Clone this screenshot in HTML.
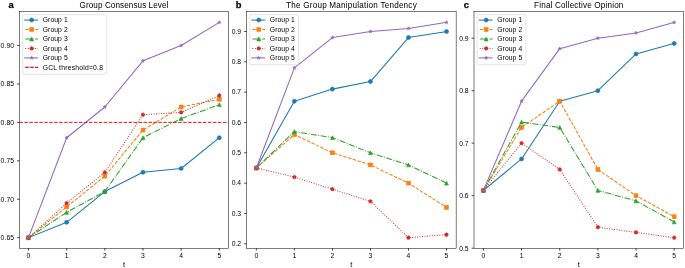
<!DOCTYPE html>
<html><head><meta charset="utf-8"><title>Charts</title>
<style>html,body{margin:0;padding:0;background:#fff;}body{width:685px;height:268px;overflow:hidden;font-family:"Liberation Sans",sans-serif;}svg{display:block;will-change:transform;}</style>
</head><body>
<svg width="685" height="268" viewBox="0 0 685 268" font-family="'Liberation Sans', sans-serif">
<rect width="685" height="268" fill="#fff"/>
<clipPath id="c0"><rect x="19.50" y="11.45" width="208.95" height="236.80"/></clipPath>
<g stroke="#000" stroke-width="0.72"><line x1="28.50" y1="248.25" x2="28.50" y2="250.64"/><line x1="66.66" y1="248.25" x2="66.66" y2="250.64"/><line x1="104.82" y1="248.25" x2="104.82" y2="250.64"/><line x1="142.98" y1="248.25" x2="142.98" y2="250.64"/><line x1="181.14" y1="248.25" x2="181.14" y2="250.64"/><line x1="219.30" y1="248.25" x2="219.30" y2="250.64"/><line x1="17.11" y1="237.69" x2="19.50" y2="237.69"/><line x1="17.11" y1="199.24" x2="19.50" y2="199.24"/><line x1="17.11" y1="160.80" x2="19.50" y2="160.80"/><line x1="17.11" y1="122.36" x2="19.50" y2="122.36"/><line x1="17.11" y1="83.92" x2="19.50" y2="83.92"/><line x1="17.11" y1="45.48" x2="19.50" y2="45.48"/></g>
<text x="28.50" y="258.05" font-size="6.78" text-anchor="middle" fill="#000">0</text>
<text x="66.66" y="258.05" font-size="6.78" text-anchor="middle" fill="#000">1</text>
<text x="104.82" y="258.05" font-size="6.78" text-anchor="middle" fill="#000">2</text>
<text x="142.98" y="258.05" font-size="6.78" text-anchor="middle" fill="#000">3</text>
<text x="181.14" y="258.05" font-size="6.78" text-anchor="middle" fill="#000">4</text>
<text x="219.30" y="258.05" font-size="6.78" text-anchor="middle" fill="#000">5</text>
<text x="13.97" y="240.02" font-size="6.78" text-anchor="end" textLength="13.35" lengthAdjust="spacing" fill="#000">0.65</text>
<text x="13.97" y="201.58" font-size="6.78" text-anchor="end" textLength="13.35" lengthAdjust="spacing" fill="#000">0.70</text>
<text x="13.97" y="163.14" font-size="6.78" text-anchor="end" textLength="13.35" lengthAdjust="spacing" fill="#000">0.75</text>
<text x="13.97" y="124.69" font-size="6.78" text-anchor="end" textLength="13.35" lengthAdjust="spacing" fill="#000">0.80</text>
<text x="13.97" y="86.25" font-size="6.78" text-anchor="end" textLength="13.35" lengthAdjust="spacing" fill="#000">0.85</text>
<text x="13.97" y="47.81" font-size="6.78" text-anchor="end" textLength="13.35" lengthAdjust="spacing" fill="#000">0.90</text>
<text x="123.97" y="266.50" font-size="7.46" text-anchor="middle" fill="#000">t</text>
<text x="123.97" y="7.50" font-size="8.14" text-anchor="middle" textLength="88.77" lengthAdjust="spacing" fill="#000">Group Consensus Level</text>
<text x="8.60" y="8.00" font-size="9.40" font-weight="bold" stroke="#000" stroke-width="0.25" fill="#000">a</text>
<g clip-path="url(#c0)">
<polyline points="28.50,237.69 66.66,222.31 104.82,191.56 142.98,172.34 181.14,168.49 219.30,137.74" fill="none" stroke="#1f77b4" stroke-width="1.05" stroke-linejoin="round" stroke-linecap="square"/>
<circle cx="28.50" cy="237.69" r="2.02" fill="#1f77b4" stroke="#1f77b4" stroke-width="0.64" stroke-linejoin="miter"/>
<circle cx="66.66" cy="222.31" r="2.02" fill="#1f77b4" stroke="#1f77b4" stroke-width="0.64" stroke-linejoin="miter"/>
<circle cx="104.82" cy="191.56" r="2.02" fill="#1f77b4" stroke="#1f77b4" stroke-width="0.64" stroke-linejoin="miter"/>
<circle cx="142.98" cy="172.34" r="2.02" fill="#1f77b4" stroke="#1f77b4" stroke-width="0.64" stroke-linejoin="miter"/>
<circle cx="181.14" cy="168.49" r="2.02" fill="#1f77b4" stroke="#1f77b4" stroke-width="0.64" stroke-linejoin="miter"/>
<circle cx="219.30" cy="137.74" r="2.02" fill="#1f77b4" stroke="#1f77b4" stroke-width="0.64" stroke-linejoin="miter"/>
<polyline points="28.50,237.69 66.66,206.93 104.82,176.18 142.98,130.05 181.14,106.99 219.30,99.30" fill="none" stroke="#ff7f0e" stroke-width="1.05" stroke-linejoin="round" stroke-dasharray="3.46,1.50"/>
<rect x="26.58" y="235.77" width="3.84" height="3.84" fill="#ff7f0e" stroke="#ff7f0e" stroke-width="0.64" stroke-linejoin="miter"/>
<rect x="64.74" y="205.01" width="3.84" height="3.84" fill="#ff7f0e" stroke="#ff7f0e" stroke-width="0.64" stroke-linejoin="miter"/>
<rect x="102.90" y="174.26" width="3.84" height="3.84" fill="#ff7f0e" stroke="#ff7f0e" stroke-width="0.64" stroke-linejoin="miter"/>
<rect x="141.06" y="128.13" width="3.84" height="3.84" fill="#ff7f0e" stroke="#ff7f0e" stroke-width="0.64" stroke-linejoin="miter"/>
<rect x="179.22" y="105.07" width="3.84" height="3.84" fill="#ff7f0e" stroke="#ff7f0e" stroke-width="0.64" stroke-linejoin="miter"/>
<rect x="217.38" y="97.38" width="3.84" height="3.84" fill="#ff7f0e" stroke="#ff7f0e" stroke-width="0.64" stroke-linejoin="miter"/>
<polyline points="28.50,237.69 66.66,212.31 104.82,191.56 142.98,137.74 181.14,118.52 219.30,104.68" fill="none" stroke="#2ca02c" stroke-width="1.05" stroke-linejoin="round" stroke-dasharray="5.98,1.50,0.93,1.50"/>
<polygon points="28.50,235.77 26.58,239.61 30.42,239.61" fill="#2ca02c" stroke="#2ca02c" stroke-width="0.64" stroke-linejoin="miter"/>
<polygon points="66.66,210.39 64.74,214.23 68.58,214.23" fill="#2ca02c" stroke="#2ca02c" stroke-width="0.64" stroke-linejoin="miter"/>
<polygon points="104.82,189.64 102.90,193.48 106.74,193.48" fill="#2ca02c" stroke="#2ca02c" stroke-width="0.64" stroke-linejoin="miter"/>
<polygon points="142.98,135.82 141.06,139.66 144.90,139.66" fill="#2ca02c" stroke="#2ca02c" stroke-width="0.64" stroke-linejoin="miter"/>
<polygon points="181.14,116.60 179.22,120.44 183.06,120.44" fill="#2ca02c" stroke="#2ca02c" stroke-width="0.64" stroke-linejoin="miter"/>
<polygon points="219.30,102.76 217.38,106.60 221.22,106.60" fill="#2ca02c" stroke="#2ca02c" stroke-width="0.64" stroke-linejoin="miter"/>
<polyline points="28.50,237.69 66.66,203.09 104.82,172.34 142.98,114.67 181.14,112.37 219.30,95.45" fill="none" stroke="#d62728" stroke-width="1.05" stroke-linejoin="round" stroke-dasharray="0.93,1.54"/>
<polygon points="28.50,235.77 30.33,237.09 29.63,239.24 27.37,239.24 26.67,237.09" fill="#d62728" stroke="#d62728" stroke-width="0.64" stroke-linejoin="miter"/>
<polygon points="66.66,201.17 68.49,202.50 67.79,204.64 65.53,204.64 64.83,202.50" fill="#d62728" stroke="#d62728" stroke-width="0.64" stroke-linejoin="miter"/>
<polygon points="104.82,170.42 106.65,171.74 105.95,173.89 103.69,173.89 102.99,171.74" fill="#d62728" stroke="#d62728" stroke-width="0.64" stroke-linejoin="miter"/>
<polygon points="142.98,112.75 144.81,114.08 144.11,116.23 141.85,116.23 141.15,114.08" fill="#d62728" stroke="#d62728" stroke-width="0.64" stroke-linejoin="miter"/>
<polygon points="181.14,110.45 182.97,111.77 182.27,113.92 180.01,113.92 179.31,111.77" fill="#d62728" stroke="#d62728" stroke-width="0.64" stroke-linejoin="miter"/>
<polygon points="219.30,93.53 221.13,94.86 220.43,97.01 218.17,97.01 217.47,94.86" fill="#d62728" stroke="#d62728" stroke-width="0.64" stroke-linejoin="miter"/>
<polyline points="28.50,237.69 66.66,137.74 104.82,106.99 142.98,60.86 181.14,45.48 219.30,22.41" fill="none" stroke="#9467bd" stroke-width="1.05" stroke-linejoin="round" stroke-linecap="square"/>
<polygon points="28.50,236.00 28.88,237.16 30.11,237.16 29.11,237.89 29.49,239.05 28.50,238.33 27.51,239.05 27.89,237.89 26.89,237.16 28.12,237.16" fill="#9467bd" stroke="#9467bd" stroke-width="0.64" stroke-linejoin="bevel"/>
<polygon points="66.66,136.05 67.04,137.22 68.27,137.22 67.27,137.94 67.65,139.11 66.66,138.38 65.67,139.11 66.05,137.94 65.05,137.22 66.28,137.22" fill="#9467bd" stroke="#9467bd" stroke-width="0.64" stroke-linejoin="bevel"/>
<polygon points="104.82,105.30 105.20,106.46 106.43,106.46 105.43,107.18 105.81,108.35 104.82,107.63 103.83,108.35 104.21,107.18 103.21,106.46 104.44,106.46" fill="#9467bd" stroke="#9467bd" stroke-width="0.64" stroke-linejoin="bevel"/>
<polygon points="142.98,59.17 143.36,60.33 144.59,60.33 143.59,61.05 143.97,62.22 142.98,61.50 141.99,62.22 142.37,61.05 141.37,60.33 142.60,60.33" fill="#9467bd" stroke="#9467bd" stroke-width="0.64" stroke-linejoin="bevel"/>
<polygon points="181.14,43.79 181.52,44.96 182.75,44.96 181.75,45.68 182.13,46.85 181.14,46.12 180.15,46.85 180.53,45.68 179.53,44.96 180.76,44.96" fill="#9467bd" stroke="#9467bd" stroke-width="0.64" stroke-linejoin="bevel"/>
<polygon points="219.30,20.72 219.68,21.89 220.91,21.89 219.91,22.61 220.29,23.78 219.30,23.06 218.31,23.78 218.69,22.61 217.69,21.89 218.92,21.89" fill="#9467bd" stroke="#9467bd" stroke-width="0.64" stroke-linejoin="bevel"/>
<line x1="19.50" y1="122.36" x2="228.45" y2="122.36" stroke="#f00" stroke-width="0.98" stroke-dasharray="3.46,1.50"/>
</g>
<rect x="19.50" y="11.45" width="208.95" height="236.80" fill="none" stroke="#000" stroke-width="0.51"/>
<rect x="22.70" y="14.65" width="84.01" height="59.52" rx="1.28" fill="#fff" fill-opacity="0.8" stroke="#ccc" stroke-opacity="0.8" stroke-width="0.64"/>
<line x1="24.71" y1="20.10" x2="37.61" y2="20.10" stroke="#1f77b4" stroke-width="1.05" stroke-linecap="square"/>
<circle cx="31.66" cy="20.10" r="2.02" fill="#1f77b4" stroke="#1f77b4" stroke-width="0.64" stroke-linejoin="miter"/>
<text x="42.68" y="22.43" font-size="6.78" textLength="25.00" lengthAdjust="spacing" fill="#000">Group 1</text>
<line x1="25.26" y1="29.55" x2="38.06" y2="29.55" stroke="#ff7f0e" stroke-width="1.05" stroke-dasharray="3.46,1.50"/>
<rect x="29.74" y="27.63" width="3.84" height="3.84" fill="#ff7f0e" stroke="#ff7f0e" stroke-width="0.64" stroke-linejoin="miter"/>
<text x="42.68" y="31.88" font-size="6.78" textLength="25.00" lengthAdjust="spacing" fill="#000">Group 2</text>
<line x1="25.26" y1="39.00" x2="38.06" y2="39.00" stroke="#2ca02c" stroke-width="1.05" stroke-dasharray="5.98,1.50,0.93,1.50"/>
<polygon points="31.66,37.08 29.74,40.92 33.58,40.92" fill="#2ca02c" stroke="#2ca02c" stroke-width="0.64" stroke-linejoin="miter"/>
<text x="42.68" y="41.33" font-size="6.78" textLength="25.00" lengthAdjust="spacing" fill="#000">Group 3</text>
<line x1="25.26" y1="48.45" x2="38.06" y2="48.45" stroke="#d62728" stroke-width="1.05" stroke-dasharray="0.93,1.54"/>
<polygon points="31.66,46.53 33.49,47.86 32.79,50.00 30.53,50.00 29.83,47.86" fill="#d62728" stroke="#d62728" stroke-width="0.64" stroke-linejoin="miter"/>
<text x="42.68" y="50.78" font-size="6.78" textLength="25.00" lengthAdjust="spacing" fill="#000">Group 4</text>
<line x1="24.71" y1="57.90" x2="37.61" y2="57.90" stroke="#9467bd" stroke-width="1.05" stroke-linecap="square"/>
<polygon points="31.66,56.21 32.04,57.38 33.27,57.38 32.27,58.10 32.65,59.27 31.66,58.55 30.67,59.27 31.05,58.10 30.05,57.38 31.28,57.38" fill="#9467bd" stroke="#9467bd" stroke-width="0.64" stroke-linejoin="bevel"/>
<text x="42.68" y="60.23" font-size="6.78" textLength="25.00" lengthAdjust="spacing" fill="#000">Group 5</text>
<line x1="25.26" y1="67.35" x2="38.06" y2="67.35" stroke="#f00" stroke-width="1.05" stroke-dasharray="3.46,1.50"/>
<text x="42.68" y="69.68" font-size="6.78" textLength="60.27" lengthAdjust="spacing" fill="#000">GCL threshold=0.8</text>
<clipPath id="c1"><rect x="246.60" y="11.45" width="209.55" height="236.80"/></clipPath>
<g stroke="#000" stroke-width="0.72"><line x1="256.35" y1="248.25" x2="256.35" y2="250.64"/><line x1="294.38" y1="248.25" x2="294.38" y2="250.64"/><line x1="332.41" y1="248.25" x2="332.41" y2="250.64"/><line x1="370.44" y1="248.25" x2="370.44" y2="250.64"/><line x1="408.47" y1="248.25" x2="408.47" y2="250.64"/><line x1="446.50" y1="248.25" x2="446.50" y2="250.64"/><line x1="244.21" y1="243.75" x2="246.60" y2="243.75"/><line x1="244.21" y1="213.43" x2="246.60" y2="213.43"/><line x1="244.21" y1="183.11" x2="246.60" y2="183.11"/><line x1="244.21" y1="152.79" x2="246.60" y2="152.79"/><line x1="244.21" y1="122.47" x2="246.60" y2="122.47"/><line x1="244.21" y1="92.15" x2="246.60" y2="92.15"/><line x1="244.21" y1="61.83" x2="246.60" y2="61.83"/><line x1="244.21" y1="31.51" x2="246.60" y2="31.51"/></g>
<text x="256.35" y="258.05" font-size="6.78" text-anchor="middle" fill="#000">0</text>
<text x="294.38" y="258.05" font-size="6.78" text-anchor="middle" fill="#000">1</text>
<text x="332.41" y="258.05" font-size="6.78" text-anchor="middle" fill="#000">2</text>
<text x="370.44" y="258.05" font-size="6.78" text-anchor="middle" fill="#000">3</text>
<text x="408.47" y="258.05" font-size="6.78" text-anchor="middle" fill="#000">4</text>
<text x="446.50" y="258.05" font-size="6.78" text-anchor="middle" fill="#000">5</text>
<text x="241.07" y="246.08" font-size="6.78" text-anchor="end" textLength="9.28" lengthAdjust="spacing" fill="#000">0.2</text>
<text x="241.07" y="215.76" font-size="6.78" text-anchor="end" textLength="9.28" lengthAdjust="spacing" fill="#000">0.3</text>
<text x="241.07" y="185.44" font-size="6.78" text-anchor="end" textLength="9.28" lengthAdjust="spacing" fill="#000">0.4</text>
<text x="241.07" y="155.12" font-size="6.78" text-anchor="end" textLength="9.28" lengthAdjust="spacing" fill="#000">0.5</text>
<text x="241.07" y="124.80" font-size="6.78" text-anchor="end" textLength="9.28" lengthAdjust="spacing" fill="#000">0.6</text>
<text x="241.07" y="94.48" font-size="6.78" text-anchor="end" textLength="9.28" lengthAdjust="spacing" fill="#000">0.7</text>
<text x="241.07" y="64.16" font-size="6.78" text-anchor="end" textLength="9.28" lengthAdjust="spacing" fill="#000">0.8</text>
<text x="241.07" y="33.84" font-size="6.78" text-anchor="end" textLength="9.28" lengthAdjust="spacing" fill="#000">0.9</text>
<text x="351.38" y="266.50" font-size="7.46" text-anchor="middle" fill="#000">t</text>
<text x="351.38" y="7.50" font-size="8.14" text-anchor="middle" textLength="130.62" lengthAdjust="spacing" fill="#000">The Group Manipulation Tendency</text>
<text x="235.70" y="8.00" font-size="9.40" font-weight="bold" stroke="#000" stroke-width="0.25" fill="#000">b</text>
<g clip-path="url(#c1)">
<polyline points="256.35,167.95 294.38,101.25 332.41,89.12 370.44,81.54 408.47,37.57 446.50,31.51" fill="none" stroke="#1f77b4" stroke-width="1.05" stroke-linejoin="round" stroke-linecap="square"/>
<circle cx="256.35" cy="167.95" r="2.02" fill="#1f77b4" stroke="#1f77b4" stroke-width="0.64" stroke-linejoin="miter"/>
<circle cx="294.38" cy="101.25" r="2.02" fill="#1f77b4" stroke="#1f77b4" stroke-width="0.64" stroke-linejoin="miter"/>
<circle cx="332.41" cy="89.12" r="2.02" fill="#1f77b4" stroke="#1f77b4" stroke-width="0.64" stroke-linejoin="miter"/>
<circle cx="370.44" cy="81.54" r="2.02" fill="#1f77b4" stroke="#1f77b4" stroke-width="0.64" stroke-linejoin="miter"/>
<circle cx="408.47" cy="37.57" r="2.02" fill="#1f77b4" stroke="#1f77b4" stroke-width="0.64" stroke-linejoin="miter"/>
<circle cx="446.50" cy="31.51" r="2.02" fill="#1f77b4" stroke="#1f77b4" stroke-width="0.64" stroke-linejoin="miter"/>
<polyline points="256.35,167.95 294.38,134.60 332.41,152.79 370.44,164.92 408.47,183.11 446.50,207.37" fill="none" stroke="#ff7f0e" stroke-width="1.05" stroke-linejoin="round" stroke-dasharray="3.46,1.50"/>
<rect x="254.43" y="166.03" width="3.84" height="3.84" fill="#ff7f0e" stroke="#ff7f0e" stroke-width="0.64" stroke-linejoin="miter"/>
<rect x="292.46" y="132.68" width="3.84" height="3.84" fill="#ff7f0e" stroke="#ff7f0e" stroke-width="0.64" stroke-linejoin="miter"/>
<rect x="330.49" y="150.87" width="3.84" height="3.84" fill="#ff7f0e" stroke="#ff7f0e" stroke-width="0.64" stroke-linejoin="miter"/>
<rect x="368.52" y="163.00" width="3.84" height="3.84" fill="#ff7f0e" stroke="#ff7f0e" stroke-width="0.64" stroke-linejoin="miter"/>
<rect x="406.55" y="181.19" width="3.84" height="3.84" fill="#ff7f0e" stroke="#ff7f0e" stroke-width="0.64" stroke-linejoin="miter"/>
<rect x="444.58" y="205.45" width="3.84" height="3.84" fill="#ff7f0e" stroke="#ff7f0e" stroke-width="0.64" stroke-linejoin="miter"/>
<polyline points="256.35,167.95 294.38,131.57 332.41,137.63 370.44,152.79 408.47,164.92 446.50,183.11" fill="none" stroke="#2ca02c" stroke-width="1.05" stroke-linejoin="round" stroke-dasharray="5.98,1.50,0.93,1.50"/>
<polygon points="256.35,166.03 254.43,169.87 258.27,169.87" fill="#2ca02c" stroke="#2ca02c" stroke-width="0.64" stroke-linejoin="miter"/>
<polygon points="294.38,129.65 292.46,133.49 296.30,133.49" fill="#2ca02c" stroke="#2ca02c" stroke-width="0.64" stroke-linejoin="miter"/>
<polygon points="332.41,135.71 330.49,139.55 334.33,139.55" fill="#2ca02c" stroke="#2ca02c" stroke-width="0.64" stroke-linejoin="miter"/>
<polygon points="370.44,150.87 368.52,154.71 372.36,154.71" fill="#2ca02c" stroke="#2ca02c" stroke-width="0.64" stroke-linejoin="miter"/>
<polygon points="408.47,163.00 406.55,166.84 410.39,166.84" fill="#2ca02c" stroke="#2ca02c" stroke-width="0.64" stroke-linejoin="miter"/>
<polygon points="446.50,181.19 444.58,185.03 448.42,185.03" fill="#2ca02c" stroke="#2ca02c" stroke-width="0.64" stroke-linejoin="miter"/>
<polyline points="256.35,167.95 294.38,177.05 332.41,189.17 370.44,201.30 408.47,237.69 446.50,234.65" fill="none" stroke="#d62728" stroke-width="1.05" stroke-linejoin="round" stroke-dasharray="0.93,1.54"/>
<polygon points="256.35,166.03 258.18,167.36 257.48,169.50 255.22,169.50 254.52,167.36" fill="#d62728" stroke="#d62728" stroke-width="0.64" stroke-linejoin="miter"/>
<polygon points="294.38,175.13 296.21,176.45 295.51,178.60 293.25,178.60 292.55,176.45" fill="#d62728" stroke="#d62728" stroke-width="0.64" stroke-linejoin="miter"/>
<polygon points="332.41,187.25 334.24,188.58 333.54,190.73 331.28,190.73 330.58,188.58" fill="#d62728" stroke="#d62728" stroke-width="0.64" stroke-linejoin="miter"/>
<polygon points="370.44,199.38 372.27,200.71 371.57,202.86 369.31,202.86 368.61,200.71" fill="#d62728" stroke="#d62728" stroke-width="0.64" stroke-linejoin="miter"/>
<polygon points="408.47,235.77 410.30,237.09 409.60,239.24 407.34,239.24 406.64,237.09" fill="#d62728" stroke="#d62728" stroke-width="0.64" stroke-linejoin="miter"/>
<polygon points="446.50,232.73 448.33,234.06 447.63,236.21 445.37,236.21 444.67,234.06" fill="#d62728" stroke="#d62728" stroke-width="0.64" stroke-linejoin="miter"/>
<polyline points="256.35,167.95 294.38,67.89 332.41,37.57 370.44,31.51 408.47,28.48 446.50,22.41" fill="none" stroke="#9467bd" stroke-width="1.05" stroke-linejoin="round" stroke-linecap="square"/>
<polygon points="256.35,166.26 256.73,167.43 257.96,167.43 256.96,168.15 257.34,169.32 256.35,168.60 255.36,169.32 255.74,168.15 254.74,167.43 255.97,167.43" fill="#9467bd" stroke="#9467bd" stroke-width="0.64" stroke-linejoin="bevel"/>
<polygon points="294.38,66.20 294.76,67.37 295.99,67.37 294.99,68.09 295.37,69.26 294.38,68.54 293.39,69.26 293.77,68.09 292.77,67.37 294.00,67.37" fill="#9467bd" stroke="#9467bd" stroke-width="0.64" stroke-linejoin="bevel"/>
<polygon points="332.41,35.88 332.79,37.05 334.02,37.05 333.02,37.77 333.40,38.94 332.41,38.22 331.42,38.94 331.80,37.77 330.80,37.05 332.03,37.05" fill="#9467bd" stroke="#9467bd" stroke-width="0.64" stroke-linejoin="bevel"/>
<polygon points="370.44,29.82 370.82,30.99 372.05,30.99 371.05,31.71 371.43,32.88 370.44,32.16 369.45,32.88 369.83,31.71 368.83,30.99 370.06,30.99" fill="#9467bd" stroke="#9467bd" stroke-width="0.64" stroke-linejoin="bevel"/>
<polygon points="408.47,26.79 408.85,27.96 410.08,27.96 409.08,28.68 409.46,29.84 408.47,29.12 407.48,29.84 407.86,28.68 406.86,27.96 408.09,27.96" fill="#9467bd" stroke="#9467bd" stroke-width="0.64" stroke-linejoin="bevel"/>
<polygon points="446.50,20.72 446.88,21.89 448.11,21.89 447.11,22.61 447.49,23.78 446.50,23.06 445.51,23.78 445.89,22.61 444.89,21.89 446.12,21.89" fill="#9467bd" stroke="#9467bd" stroke-width="0.64" stroke-linejoin="bevel"/>
</g>
<rect x="246.60" y="11.45" width="209.55" height="236.80" fill="none" stroke="#000" stroke-width="0.51"/>
<rect x="249.80" y="14.65" width="48.74" height="50.07" rx="1.28" fill="#fff" fill-opacity="0.8" stroke="#ccc" stroke-opacity="0.8" stroke-width="0.64"/>
<line x1="251.81" y1="20.10" x2="264.71" y2="20.10" stroke="#1f77b4" stroke-width="1.05" stroke-linecap="square"/>
<circle cx="258.76" cy="20.10" r="2.02" fill="#1f77b4" stroke="#1f77b4" stroke-width="0.64" stroke-linejoin="miter"/>
<text x="269.78" y="22.43" font-size="6.78" textLength="25.00" lengthAdjust="spacing" fill="#000">Group 1</text>
<line x1="252.36" y1="29.55" x2="265.16" y2="29.55" stroke="#ff7f0e" stroke-width="1.05" stroke-dasharray="3.46,1.50"/>
<rect x="256.84" y="27.63" width="3.84" height="3.84" fill="#ff7f0e" stroke="#ff7f0e" stroke-width="0.64" stroke-linejoin="miter"/>
<text x="269.78" y="31.88" font-size="6.78" textLength="25.00" lengthAdjust="spacing" fill="#000">Group 2</text>
<line x1="252.36" y1="39.00" x2="265.16" y2="39.00" stroke="#2ca02c" stroke-width="1.05" stroke-dasharray="5.98,1.50,0.93,1.50"/>
<polygon points="258.76,37.08 256.84,40.92 260.68,40.92" fill="#2ca02c" stroke="#2ca02c" stroke-width="0.64" stroke-linejoin="miter"/>
<text x="269.78" y="41.33" font-size="6.78" textLength="25.00" lengthAdjust="spacing" fill="#000">Group 3</text>
<line x1="252.36" y1="48.45" x2="265.16" y2="48.45" stroke="#d62728" stroke-width="1.05" stroke-dasharray="0.93,1.54"/>
<polygon points="258.76,46.53 260.59,47.86 259.89,50.00 257.63,50.00 256.93,47.86" fill="#d62728" stroke="#d62728" stroke-width="0.64" stroke-linejoin="miter"/>
<text x="269.78" y="50.78" font-size="6.78" textLength="25.00" lengthAdjust="spacing" fill="#000">Group 4</text>
<line x1="251.81" y1="57.90" x2="264.71" y2="57.90" stroke="#9467bd" stroke-width="1.05" stroke-linecap="square"/>
<polygon points="258.76,56.21 259.14,57.38 260.37,57.38 259.37,58.10 259.75,59.27 258.76,58.55 257.77,59.27 258.15,58.10 257.15,57.38 258.38,57.38" fill="#9467bd" stroke="#9467bd" stroke-width="0.64" stroke-linejoin="bevel"/>
<text x="269.78" y="60.23" font-size="6.78" textLength="25.00" lengthAdjust="spacing" fill="#000">Group 5</text>
<clipPath id="c2"><rect x="474.00" y="11.45" width="209.50" height="236.80"/></clipPath>
<g stroke="#000" stroke-width="0.72"><line x1="483.40" y1="248.25" x2="483.40" y2="250.64"/><line x1="521.56" y1="248.25" x2="521.56" y2="250.64"/><line x1="559.72" y1="248.25" x2="559.72" y2="250.64"/><line x1="597.88" y1="248.25" x2="597.88" y2="250.64"/><line x1="636.04" y1="248.25" x2="636.04" y2="250.64"/><line x1="674.20" y1="248.25" x2="674.20" y2="250.64"/><line x1="471.61" y1="248.19" x2="474.00" y2="248.19"/><line x1="471.61" y1="195.68" x2="474.00" y2="195.68"/><line x1="471.61" y1="143.18" x2="474.00" y2="143.18"/><line x1="471.61" y1="90.67" x2="474.00" y2="90.67"/><line x1="471.61" y1="38.17" x2="474.00" y2="38.17"/></g>
<text x="483.40" y="258.05" font-size="6.78" text-anchor="middle" fill="#000">0</text>
<text x="521.56" y="258.05" font-size="6.78" text-anchor="middle" fill="#000">1</text>
<text x="559.72" y="258.05" font-size="6.78" text-anchor="middle" fill="#000">2</text>
<text x="597.88" y="258.05" font-size="6.78" text-anchor="middle" fill="#000">3</text>
<text x="636.04" y="258.05" font-size="6.78" text-anchor="middle" fill="#000">4</text>
<text x="674.20" y="258.05" font-size="6.78" text-anchor="middle" fill="#000">5</text>
<text x="468.47" y="250.52" font-size="6.78" text-anchor="end" textLength="9.28" lengthAdjust="spacing" fill="#000">0.5</text>
<text x="468.47" y="198.01" font-size="6.78" text-anchor="end" textLength="9.28" lengthAdjust="spacing" fill="#000">0.6</text>
<text x="468.47" y="145.51" font-size="6.78" text-anchor="end" textLength="9.28" lengthAdjust="spacing" fill="#000">0.7</text>
<text x="468.47" y="93.00" font-size="6.78" text-anchor="end" textLength="9.28" lengthAdjust="spacing" fill="#000">0.8</text>
<text x="468.47" y="40.50" font-size="6.78" text-anchor="end" textLength="9.28" lengthAdjust="spacing" fill="#000">0.9</text>
<text x="578.75" y="266.50" font-size="7.46" text-anchor="middle" fill="#000">t</text>
<text x="578.75" y="7.50" font-size="8.14" text-anchor="middle" textLength="89.29" lengthAdjust="spacing" fill="#000">Final Collective Opinion</text>
<text x="463.80" y="8.00" font-size="9.40" font-weight="bold" stroke="#000" stroke-width="0.25" fill="#000">c</text>
<g clip-path="url(#c2)">
<polyline points="483.40,190.43 521.56,158.93 559.72,101.17 597.88,90.67 636.04,53.92 674.20,43.42" fill="none" stroke="#1f77b4" stroke-width="1.05" stroke-linejoin="round" stroke-linecap="square"/>
<circle cx="483.40" cy="190.43" r="2.02" fill="#1f77b4" stroke="#1f77b4" stroke-width="0.64" stroke-linejoin="miter"/>
<circle cx="521.56" cy="158.93" r="2.02" fill="#1f77b4" stroke="#1f77b4" stroke-width="0.64" stroke-linejoin="miter"/>
<circle cx="559.72" cy="101.17" r="2.02" fill="#1f77b4" stroke="#1f77b4" stroke-width="0.64" stroke-linejoin="miter"/>
<circle cx="597.88" cy="90.67" r="2.02" fill="#1f77b4" stroke="#1f77b4" stroke-width="0.64" stroke-linejoin="miter"/>
<circle cx="636.04" cy="53.92" r="2.02" fill="#1f77b4" stroke="#1f77b4" stroke-width="0.64" stroke-linejoin="miter"/>
<circle cx="674.20" cy="43.42" r="2.02" fill="#1f77b4" stroke="#1f77b4" stroke-width="0.64" stroke-linejoin="miter"/>
<polyline points="483.40,190.43 521.56,127.42 559.72,101.17 597.88,169.43 636.04,195.68 674.20,216.68" fill="none" stroke="#ff7f0e" stroke-width="1.05" stroke-linejoin="round" stroke-dasharray="3.46,1.50"/>
<rect x="481.48" y="188.51" width="3.84" height="3.84" fill="#ff7f0e" stroke="#ff7f0e" stroke-width="0.64" stroke-linejoin="miter"/>
<rect x="519.64" y="125.50" width="3.84" height="3.84" fill="#ff7f0e" stroke="#ff7f0e" stroke-width="0.64" stroke-linejoin="miter"/>
<rect x="557.80" y="99.25" width="3.84" height="3.84" fill="#ff7f0e" stroke="#ff7f0e" stroke-width="0.64" stroke-linejoin="miter"/>
<rect x="595.96" y="167.51" width="3.84" height="3.84" fill="#ff7f0e" stroke="#ff7f0e" stroke-width="0.64" stroke-linejoin="miter"/>
<rect x="634.12" y="193.76" width="3.84" height="3.84" fill="#ff7f0e" stroke="#ff7f0e" stroke-width="0.64" stroke-linejoin="miter"/>
<rect x="672.28" y="214.76" width="3.84" height="3.84" fill="#ff7f0e" stroke="#ff7f0e" stroke-width="0.64" stroke-linejoin="miter"/>
<polyline points="483.40,190.43 521.56,122.17 559.72,127.42 597.88,190.43 636.04,200.93 674.20,221.93" fill="none" stroke="#2ca02c" stroke-width="1.05" stroke-linejoin="round" stroke-dasharray="5.98,1.50,0.93,1.50"/>
<polygon points="483.40,188.51 481.48,192.35 485.32,192.35" fill="#2ca02c" stroke="#2ca02c" stroke-width="0.64" stroke-linejoin="miter"/>
<polygon points="521.56,120.25 519.64,124.09 523.48,124.09" fill="#2ca02c" stroke="#2ca02c" stroke-width="0.64" stroke-linejoin="miter"/>
<polygon points="559.72,125.50 557.80,129.34 561.64,129.34" fill="#2ca02c" stroke="#2ca02c" stroke-width="0.64" stroke-linejoin="miter"/>
<polygon points="597.88,188.51 595.96,192.35 599.80,192.35" fill="#2ca02c" stroke="#2ca02c" stroke-width="0.64" stroke-linejoin="miter"/>
<polygon points="636.04,199.01 634.12,202.85 637.96,202.85" fill="#2ca02c" stroke="#2ca02c" stroke-width="0.64" stroke-linejoin="miter"/>
<polygon points="674.20,220.01 672.28,223.85 676.12,223.85" fill="#2ca02c" stroke="#2ca02c" stroke-width="0.64" stroke-linejoin="miter"/>
<polyline points="483.40,190.43 521.56,143.18 559.72,169.43 597.88,227.19 636.04,232.44 674.20,237.69" fill="none" stroke="#d62728" stroke-width="1.05" stroke-linejoin="round" stroke-dasharray="0.93,1.54"/>
<polygon points="483.40,188.51 485.23,189.84 484.53,191.98 482.27,191.98 481.57,189.84" fill="#d62728" stroke="#d62728" stroke-width="0.64" stroke-linejoin="miter"/>
<polygon points="521.56,141.26 523.39,142.58 522.69,144.73 520.43,144.73 519.73,142.58" fill="#d62728" stroke="#d62728" stroke-width="0.64" stroke-linejoin="miter"/>
<polygon points="559.72,167.51 561.55,168.84 560.85,170.98 558.59,170.98 557.89,168.84" fill="#d62728" stroke="#d62728" stroke-width="0.64" stroke-linejoin="miter"/>
<polygon points="597.88,225.27 599.71,226.59 599.01,228.74 596.75,228.74 596.05,226.59" fill="#d62728" stroke="#d62728" stroke-width="0.64" stroke-linejoin="miter"/>
<polygon points="636.04,230.52 637.87,231.84 637.17,233.99 634.91,233.99 634.21,231.84" fill="#d62728" stroke="#d62728" stroke-width="0.64" stroke-linejoin="miter"/>
<polygon points="674.20,235.77 676.03,237.09 675.33,239.24 673.07,239.24 672.37,237.09" fill="#d62728" stroke="#d62728" stroke-width="0.64" stroke-linejoin="miter"/>
<polyline points="483.40,190.43 521.56,101.17 559.72,48.67 597.88,38.17 636.04,32.91 674.20,22.41" fill="none" stroke="#9467bd" stroke-width="1.05" stroke-linejoin="round" stroke-linecap="square"/>
<polygon points="483.40,188.74 483.78,189.91 485.01,189.91 484.01,190.63 484.39,191.80 483.40,191.08 482.41,191.80 482.79,190.63 481.79,189.91 483.02,189.91" fill="#9467bd" stroke="#9467bd" stroke-width="0.64" stroke-linejoin="bevel"/>
<polygon points="521.56,99.48 521.94,100.65 523.17,100.65 522.17,101.37 522.55,102.54 521.56,101.82 520.57,102.54 520.95,101.37 519.95,100.65 521.18,100.65" fill="#9467bd" stroke="#9467bd" stroke-width="0.64" stroke-linejoin="bevel"/>
<polygon points="559.72,46.98 560.10,48.14 561.33,48.14 560.33,48.87 560.71,50.03 559.72,49.31 558.73,50.03 559.11,48.87 558.11,48.14 559.34,48.14" fill="#9467bd" stroke="#9467bd" stroke-width="0.64" stroke-linejoin="bevel"/>
<polygon points="597.88,36.48 598.26,37.64 599.49,37.64 598.49,38.36 598.87,39.53 597.88,38.81 596.89,39.53 597.27,38.36 596.27,37.64 597.50,37.64" fill="#9467bd" stroke="#9467bd" stroke-width="0.64" stroke-linejoin="bevel"/>
<polygon points="636.04,31.23 636.42,32.39 637.65,32.39 636.65,33.11 637.03,34.28 636.04,33.56 635.05,34.28 635.43,33.11 634.43,32.39 635.66,32.39" fill="#9467bd" stroke="#9467bd" stroke-width="0.64" stroke-linejoin="bevel"/>
<polygon points="674.20,20.72 674.58,21.89 675.81,21.89 674.81,22.61 675.19,23.78 674.20,23.06 673.21,23.78 673.59,22.61 672.59,21.89 673.82,21.89" fill="#9467bd" stroke="#9467bd" stroke-width="0.64" stroke-linejoin="bevel"/>
</g>
<rect x="474.00" y="11.45" width="209.50" height="236.80" fill="none" stroke="#000" stroke-width="0.51"/>
<rect x="477.20" y="14.65" width="48.74" height="50.07" rx="1.28" fill="#fff" fill-opacity="0.8" stroke="#ccc" stroke-opacity="0.8" stroke-width="0.64"/>
<line x1="479.21" y1="20.10" x2="492.11" y2="20.10" stroke="#1f77b4" stroke-width="1.05" stroke-linecap="square"/>
<circle cx="486.16" cy="20.10" r="2.02" fill="#1f77b4" stroke="#1f77b4" stroke-width="0.64" stroke-linejoin="miter"/>
<text x="497.18" y="22.43" font-size="6.78" textLength="25.00" lengthAdjust="spacing" fill="#000">Group 1</text>
<line x1="479.76" y1="29.55" x2="492.56" y2="29.55" stroke="#ff7f0e" stroke-width="1.05" stroke-dasharray="3.46,1.50"/>
<rect x="484.24" y="27.63" width="3.84" height="3.84" fill="#ff7f0e" stroke="#ff7f0e" stroke-width="0.64" stroke-linejoin="miter"/>
<text x="497.18" y="31.88" font-size="6.78" textLength="25.00" lengthAdjust="spacing" fill="#000">Group 2</text>
<line x1="479.76" y1="39.00" x2="492.56" y2="39.00" stroke="#2ca02c" stroke-width="1.05" stroke-dasharray="5.98,1.50,0.93,1.50"/>
<polygon points="486.16,37.08 484.24,40.92 488.08,40.92" fill="#2ca02c" stroke="#2ca02c" stroke-width="0.64" stroke-linejoin="miter"/>
<text x="497.18" y="41.33" font-size="6.78" textLength="25.00" lengthAdjust="spacing" fill="#000">Group 3</text>
<line x1="479.76" y1="48.45" x2="492.56" y2="48.45" stroke="#d62728" stroke-width="1.05" stroke-dasharray="0.93,1.54"/>
<polygon points="486.16,46.53 487.99,47.86 487.29,50.00 485.03,50.00 484.33,47.86" fill="#d62728" stroke="#d62728" stroke-width="0.64" stroke-linejoin="miter"/>
<text x="497.18" y="50.78" font-size="6.78" textLength="25.00" lengthAdjust="spacing" fill="#000">Group 4</text>
<line x1="479.21" y1="57.90" x2="492.11" y2="57.90" stroke="#9467bd" stroke-width="1.05" stroke-linecap="square"/>
<polygon points="486.16,56.21 486.54,57.38 487.77,57.38 486.77,58.10 487.15,59.27 486.16,58.55 485.17,59.27 485.55,58.10 484.55,57.38 485.78,57.38" fill="#9467bd" stroke="#9467bd" stroke-width="0.64" stroke-linejoin="bevel"/>
<text x="497.18" y="60.23" font-size="6.78" textLength="25.00" lengthAdjust="spacing" fill="#000">Group 5</text>
</svg>
</body></html>
